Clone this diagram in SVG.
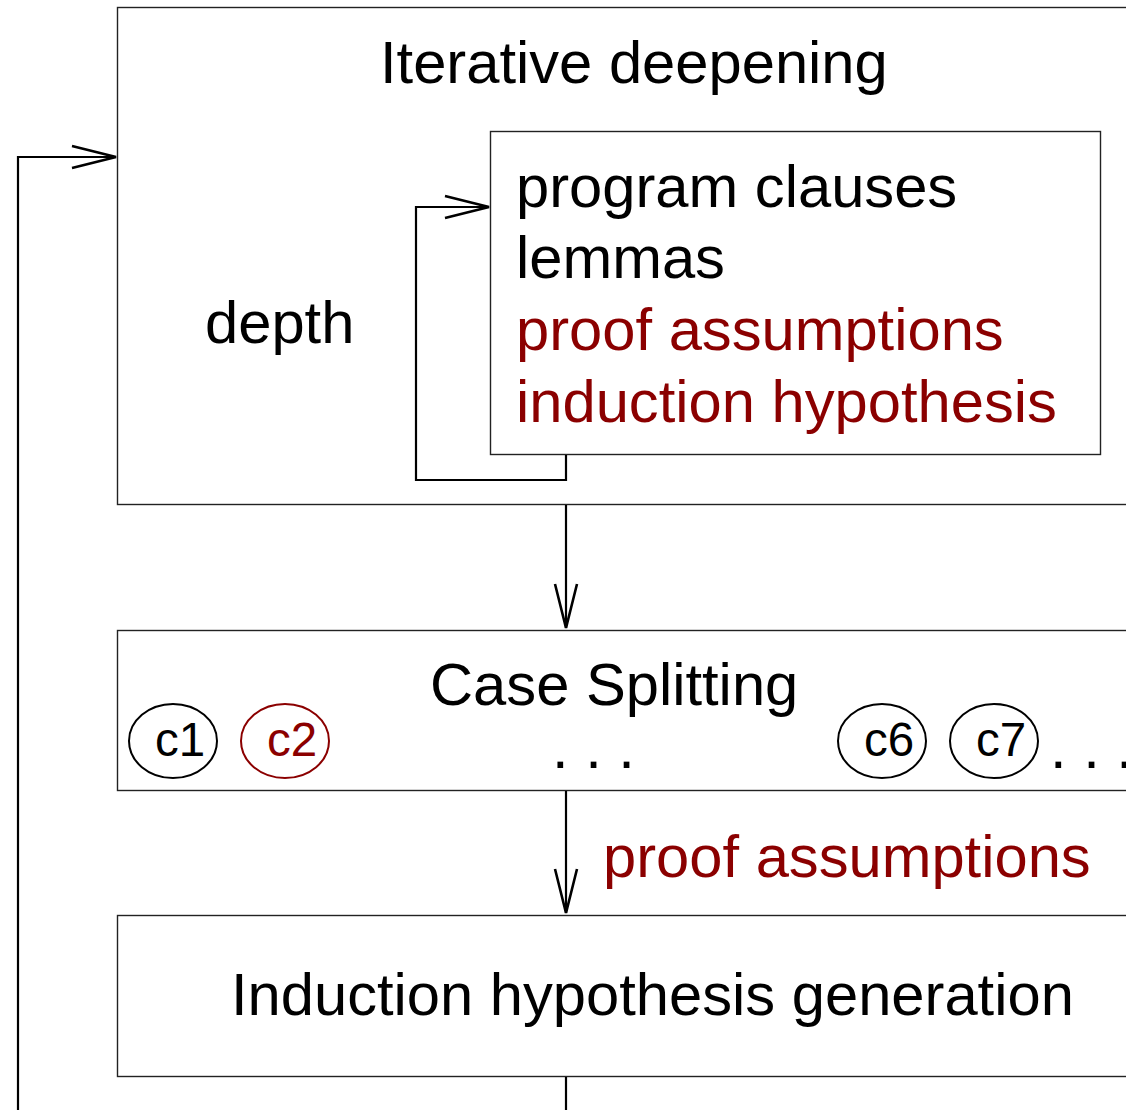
<svg xmlns="http://www.w3.org/2000/svg" width="1126" height="1110" viewBox="0 0 1126 1110">
<style>
.box{fill:none;stroke:#222;stroke-width:1.4}
.con{fill:none;stroke:#000;stroke-width:2.2}
.t{font-family:"Liberation Sans",Arial,sans-serif;font-size:59.7px;fill:#000}
.r{fill:#8B0000}
.s{font-family:"Liberation Sans",Arial,sans-serif;font-size:47.5px;text-anchor:middle}
.e{fill:none;stroke-width:2}
</style>
<defs>
<marker id="ah" markerUnits="userSpaceOnUse" markerWidth="50" markerHeight="30" viewBox="-46 -13 50 26" refX="0" refY="0" orient="auto">
<path d="M-44,-11 L0,0 L-44,11" fill="none" stroke="#000" stroke-width="2.6"/>
</marker>
</defs>
<rect width="1126" height="1110" fill="#fff"/>
<g id="iterative-deepening">
<rect class="box" x="117.5" y="7.5" width="1020" height="497"/>
<text class="t" x="380" y="83">Iterative deepening</text>
<text class="t" x="205" y="343">depth</text>
</g>
<g id="sources">
<rect class="box" x="490.5" y="131.5" width="610" height="323"/>
<text class="t" x="516" y="207">program clauses</text>
<text class="t" x="516" y="278">lemmas</text>
<text class="t r" x="516" y="350">proof assumptions</text>
<text class="t r" x="516" y="422">induction hypothesis</text>
</g>
<g id="case-splitting">
<rect class="box" x="117.5" y="630.5" width="1020" height="160"/>
<text class="t" x="430" y="705">Case Splitting</text>
<text class="t" x="552" y="768">. . .</text>
<text class="t" x="1050" y="768">. . .</text>
</g>
<g id="c1"><ellipse class="e" cx="173" cy="741" rx="44" ry="37" stroke="#000"/><text class="s" x="180" y="756" fill="#000">c1</text></g>
<g id="c2"><ellipse class="e" cx="285" cy="741" rx="44" ry="37" stroke="#8B0000"/><text class="s" x="292" y="756" fill="#8B0000">c2</text></g>
<g id="c6"><ellipse class="e" cx="882" cy="741" rx="44" ry="37" stroke="#000"/><text class="s" x="889" y="756" fill="#000">c6</text></g>
<g id="c7"><ellipse class="e" cx="994" cy="741" rx="44" ry="37" stroke="#000"/><text class="s" x="1001" y="756" fill="#000">c7</text></g>
<g id="induction-generation">
<rect class="box" x="117.5" y="915.5" width="1020" height="161"/>
<text class="t" x="231" y="1015">Induction hypothesis generation</text>
</g>
<g id="connectors">
<path class="con" d="M566,455 V480 H416 V207 H489" marker-end="url(#ah)"/>
<path class="con" d="M18,1110 V157 H116" marker-end="url(#ah)"/>
<path class="con" d="M566,505 V628" marker-end="url(#ah)"/>
<path class="con" d="M566,791 V913" marker-end="url(#ah)"/>
<path class="con" d="M566,1077 V1110"/>
<text class="t r" x="603" y="877">proof assumptions</text>
</g>
</svg>
